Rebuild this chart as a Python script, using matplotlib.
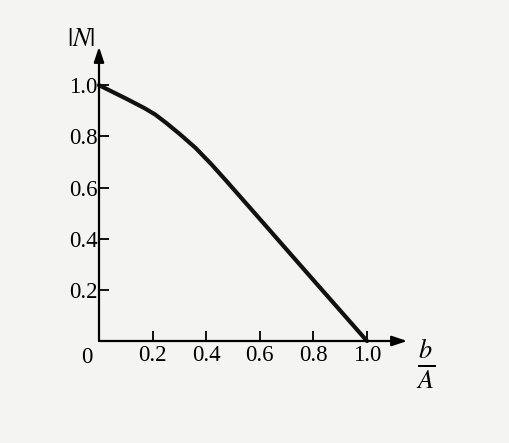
import matplotlib.pyplot as plt
import numpy as np

# curve: |N| against b/A
b_over_A = [0.0, 0.1, 0.17, 0.21, 0.25, 0.3, 0.36, 0.42, 0.48, 0.6, 0.8, 1.0]
N_mag = [1.0, 0.948, 0.91, 0.885, 0.853, 0.81, 0.755, 0.69, 0.62, 0.477, 0.238, 0.0]

x_ticks = [0.2, 0.4, 0.6, 0.8, 1.0]
y_ticks = [0.2, 0.4, 0.6, 0.8, 1.0]
tick_labels = ['0.2', '0.4', '0.6', '0.8', '1.0']

plt.rcParams['font.family'] = 'Liberation Serif'
plt.rcParams['mathtext.fontset'] = 'stix'

fig = plt.figure(figsize=(5.1, 4.43), dpi=100)
fig.patch.set_facecolor('#f4f4f2')
ax = fig.add_axes([99/510, 102/443, 321.6/510, 307/443])
ax.set_facecolor('none')
ax.set_xlim(0, 1.2)
ax.set_ylim(0, 1.2)
for s in ax.spines.values():
    s.set_visible(False)

# axes with arrows
arrow = dict(arrowstyle='-|>,head_length=0.9,head_width=0.3',
             color='black', lw=1.6, shrinkA=0, shrinkB=0)
ax.annotate('', xy=(1.15, 0), xytext=(0, 0), annotation_clip=False, arrowprops=arrow)
ax.annotate('', xy=(0, 1.15), xytext=(0, 0), annotation_clip=False, arrowprops=arrow)

ax.plot(b_over_A, N_mag, color='#111111', lw=3, solid_capstyle='round', clip_on=False)

ax.set_xticks(x_ticks)
ax.set_xticklabels(tick_labels)
ax.set_yticks(y_ticks)
ax.set_yticklabels(tick_labels)
ax.tick_params(direction='in', length=7, width=1.3, labelsize=16.5, color='black')
ax.tick_params(axis='x', pad=3)
ax.tick_params(axis='y', pad=1)

ax.text(-0.025, -0.025, '0', ha='right', va='top', fontsize=16.5)
ax.text(-0.012, 1.176, r'$|N|$', ha='right', va='center', fontsize=19)
ax.text(1.22, -0.09, r'$\frac{b}{A}$', ha='center', va='center', fontsize=27)

fig.savefig('out.png', dpi=100, facecolor=fig.get_facecolor())
